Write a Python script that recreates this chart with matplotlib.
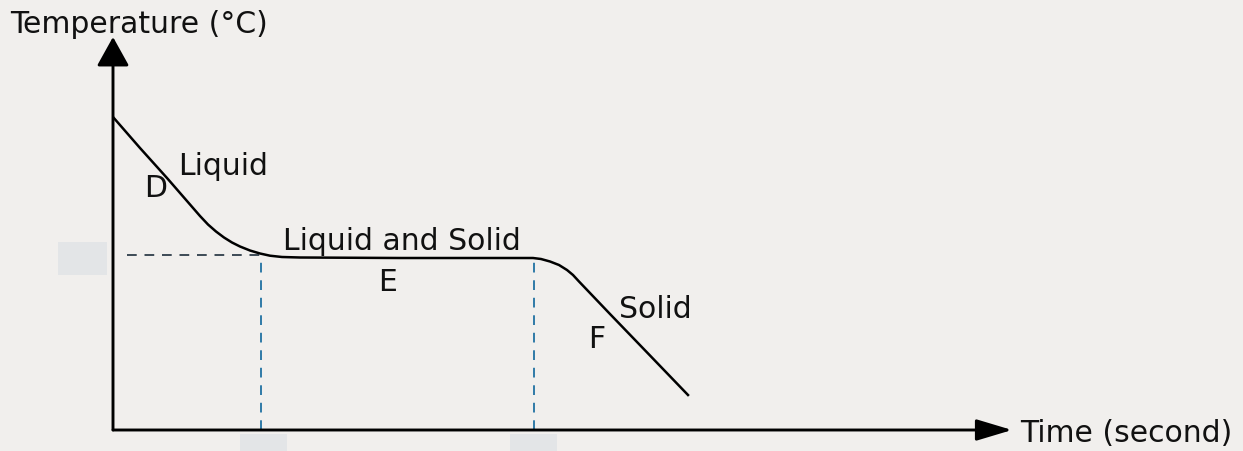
import matplotlib
matplotlib.use("Agg")
import matplotlib.pyplot as plt
from matplotlib.patches import Rectangle

# cooling curve (time and temperature in arbitrary units)
time = [0, 27, 54, 87, 95, 103, 111, 119, 127, 137, 147, 157, 169, 187, 287, 407, 420,
        428, 437, 446, 454, 460, 466, 497, 537, 575]
temp = [313, 282, 252, 214, 205.5, 198.5, 192.5, 187.5, 183.5, 179.5, 176.5, 174.3, 173,
        172.5, 172, 172, 172, 171, 168.5, 165, 160, 155, 148.5, 116, 74.5, 35]

freeze_temp = 175
freeze_start = 148
freeze_end = 421

T_MAX = 393
X_MAX = 899

W, H = 1243, 451
BG = "#f1efed"

fig = plt.figure(figsize=(W / 100, H / 100), dpi=100, facecolor=BG)
ax = fig.add_axes([113 / W, (H - 430) / H, X_MAX / W, T_MAX / H])
ax.set_xlim(0, X_MAX)
ax.set_ylim(0, T_MAX)
ax.axis("off")
ax.set_facecolor(BG)

# blanked label boxes
for x, y, w, h in [(-55, 155, 49, 33), (127, -21, 47, 17), (397, -21, 47, 17)]:
    ax.add_patch(Rectangle((x, y), w, h, facecolor="#e3e5e7", edgecolor="none",
                           clip_on=False, zorder=0))

# guide lines
ax.plot([14, freeze_start], [freeze_temp, freeze_temp], ls=(0, (5, 4)), color="#3d4a55", lw=1.4)
ax.plot([freeze_start, freeze_start], [0, freeze_temp], ls=(0, (5, 4)), color="#2f7aa8", lw=1.4)
ax.plot([freeze_end, freeze_end], [0, freeze_temp - 3], ls=(0, (5, 4)), color="#2f7aa8", lw=1.4)

# curve
ax.plot(time, temp, color="black", lw=1.8, solid_joinstyle="round")

# axes with arrows
ax.annotate("", xy=(0, T_MAX), xytext=(0, 0),
            arrowprops=dict(arrowstyle="-|>,head_length=0.9,head_width=0.5", color="black",
                            lw=2.1, shrinkA=0, shrinkB=0, mutation_scale=20))
ax.annotate("", xy=(X_MAX, 0), xytext=(0, 0),
            arrowprops=dict(arrowstyle="-|>,head_length=1.1,head_width=0.33", color="black",
                            lw=2.1, shrinkA=0, shrinkB=0, mutation_scale=20))

fs = 21.5
kw = dict(fontsize=fs, family="DejaVu Sans", color="#111111", clip_on=False)
ax.text(-103, 397, "Temperature (°C)", ha="left", va="baseline", **kw)
ax.text(X_MAX + 8, -12, "Time (second)", ha="left", va="baseline", **kw)
ax.text(65, 255, "Liquid", ha="left", va="baseline", **kw)
ax.text(43, 233, "D", ha="center", va="baseline", **kw)
ax.text(170, 180, "Liquid and Solid", ha="left", va="baseline", **kw)
ax.text(275, 139, "E", ha="center", va="baseline", **kw)
ax.text(506, 112, "Solid", ha="left", va="baseline", **kw)
ax.text(484, 82, "F", ha="center", va="baseline", **kw)

fig.savefig("out.png", dpi=100, facecolor=BG)
